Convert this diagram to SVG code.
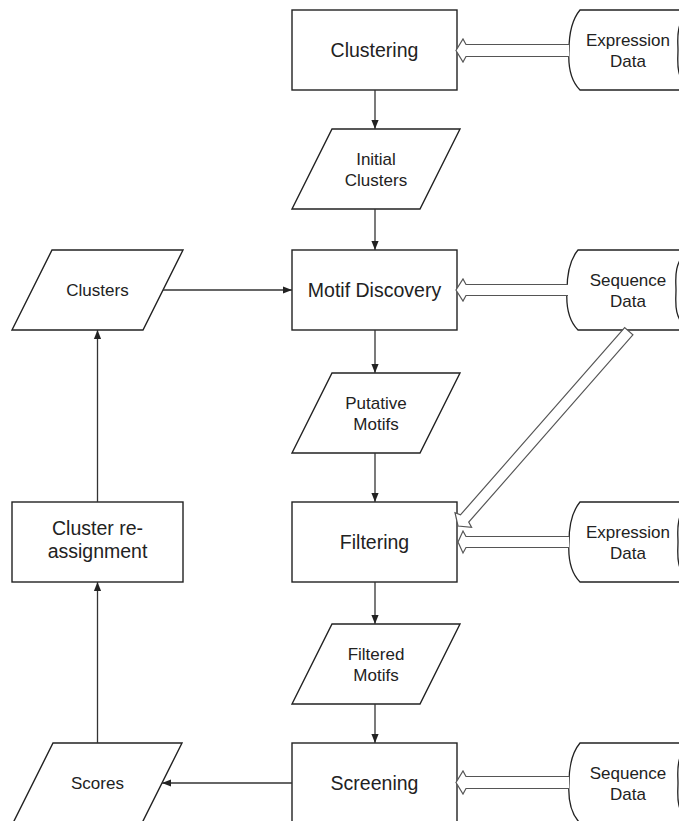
<svg xmlns="http://www.w3.org/2000/svg" width="679" height="821" viewBox="0 0 679 821">
<style>
.box{fill:#fff;stroke:#222;stroke-width:1.4}
.data{fill:#fff;stroke:#222;stroke-width:1.3}
.t{font-family:"Liberation Sans",Arial,sans-serif;fill:#222;text-anchor:middle}
.big{font-size:19.5px}
.sm{font-size:17px}
.con{fill:none;stroke:#333;stroke-width:1.3}
.hol{fill:#fff;stroke:#555;stroke-width:1.2}
</style>
<defs>
<marker id="ah" viewBox="0 0 10 10" refX="10" refY="5" markerWidth="9" markerHeight="9" markerUnits="userSpaceOnUse" orient="auto">
<path d="M0,1 L10,5 L0,9 z" fill="#222"/>
</marker>
</defs>
<rect width="679" height="821" fill="#fff"/>

<g id="clustering"><rect class="box" x="292" y="10" width="165" height="80"/><text class="t big" x="374.5" y="57">Clustering</text></g>
<g id="expr1"><path class="data" d="M580,10 L689,10 C675,25 678,40 678,50 C678,62 675,75 689,90 L580,90 C570,80 568,65 569,50 C569,38 570,22 580,10 Z"/><text class="t sm" x="628" y="46">Expression</text><text class="t sm" x="628" y="67">Data</text></g>
<g id="initial"><polygon class="box" points="332,129 460,129 420,209 292,209"/><text class="t sm" x="376" y="165">Initial</text><text class="t sm" x="376" y="186">Clusters</text></g>
<g id="motif"><rect class="box" x="292" y="250" width="165" height="80"/><text class="t big" x="374.5" y="297">Motif Discovery</text></g>
<g id="clusters"><polygon class="box" points="52,250 183,250 143,330 12,330"/><text class="t sm" x="97.5" y="296">Clusters</text></g>
<g id="seq1"><path class="data" d="M578,250 L687,250 C673,265 676,280 676,290 C676,302 673,315 687,330 L578,330 C568,320 566,305 567,290 C567,278 568,262 578,250 Z"/><text class="t sm" x="628" y="286">Sequence</text><text class="t sm" x="628" y="307">Data</text></g>
<g id="putative"><polygon class="box" points="332,373 460,373 420,453 292,453"/><text class="t sm" x="376" y="409">Putative</text><text class="t sm" x="376" y="430">Motifs</text></g>
<g id="filtering"><rect class="box" x="292" y="502" width="165" height="80"/><text class="t big" x="374.5" y="549">Filtering</text></g>
<g id="reassign"><rect class="box" x="12" y="502" width="171" height="80"/><text class="t big" x="97.5" y="535">Cluster re-</text><text class="t big" x="97.5" y="558">assignment</text></g>
<g id="expr2"><path class="data" d="M580,502 L689,502 C675,517 678,532 678,542 C678,554 675,567 689,582 L580,582 C570,572 568,557 569,542 C569,530 570,514 580,502 Z"/><text class="t sm" x="628" y="538">Expression</text><text class="t sm" x="628" y="559">Data</text></g>
<g id="filtered"><polygon class="box" points="332,624 460,624 420,704 292,704"/><text class="t sm" x="376" y="660">Filtered</text><text class="t sm" x="376" y="681">Motifs</text></g>
<g id="screening"><rect class="box" x="292" y="743" width="165" height="82"/><text class="t big" x="374.5" y="790">Screening</text></g>
<g id="scores"><polygon class="box" points="53,743 182,743 142,823 13,823"/><text class="t sm" x="97.5" y="789">Scores</text></g>
<g id="seq2"><path class="data" d="M580,743 L689,743 C675,758 678,773 678,783 C678,795 675,808 689,823 L580,823 C570,813 568,798 569,783 C569,771 570,755 580,743 Z"/><text class="t sm" x="628" y="779">Sequence</text><text class="t sm" x="628" y="800">Data</text></g>

<g id="connectors">
<path class="con" marker-end="url(#ah)" d="M375,90 V129"/>
<path class="con" marker-end="url(#ah)" d="M375,209 V250"/>
<path class="con" marker-end="url(#ah)" d="M375,330 V373"/>
<path class="con" marker-end="url(#ah)" d="M375,453 V502"/>
<path class="con" marker-end="url(#ah)" d="M375,582 V624"/>
<path class="con" marker-end="url(#ah)" d="M375,704 V743"/>
<path class="con" marker-end="url(#ah)" d="M163,290 H292"/>
<path class="con" marker-end="url(#ah)" d="M292,783 H162"/>
<path class="con" marker-end="url(#ah)" d="M97.5,502 V330"/>
<path class="con" marker-end="url(#ah)" d="M97.5,743 V582"/>
<path class="hol" d="M569,44.5 H466 L463,39 L456,50.5 L463,62 L466,56.5 H569"/>
<path class="hol" d="M568,284.5 H466 L463,279 L456,290 L463,301 L466,295.5 H568"/>
<path class="hol" d="M569,536.5 H466 L463,531 L458,542 L463,553 L466,547.5 H569"/>
<path class="hol" d="M569,776.5 H466 L463,771 L456,782.5 L463,794 L466,788.5 H569"/>
<path class="hol" transform="translate(458,526) rotate(-48.75)" d="M259,-5.5 H10 L8,-11 L0,0 L8,11 L10,5.5 H259 Z"/>
</g>
</svg>
